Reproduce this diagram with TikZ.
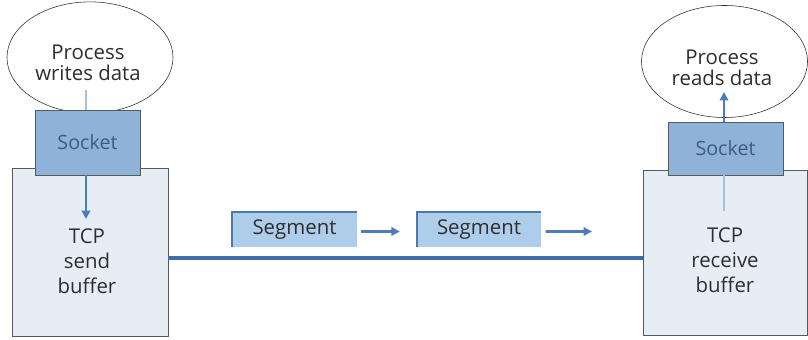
\documentclass[tikz,border=0pt]{standalone}
\usepackage{fontspec}
\setmainfont{Open Sans}
\usetikzlibrary{arrows.meta,shapes.geometric}

\definecolor{inkgray}{HTML}{2E2E2E}
\definecolor{sockblue}{HTML}{8FB2D9}
\definecolor{buffill}{HTML}{E6EDF5}
\definecolor{segfill}{HTML}{AECDEB}
\definecolor{segedge}{HTML}{4C79AA}
\definecolor{flowblue}{HTML}{4A7DBA}
\definecolor{wireblue}{HTML}{3F6EA6}
\definecolor{paleblue}{HTML}{A9C2DC}
\definecolor{socktext}{HTML}{3F5C80}

\begin{document}
\begin{tikzpicture}[
  x=0.025cm, y=-0.025cm,
  proc/.style      = {draw=inkgray, thin, ellipse, fill=white, inner sep=0pt},
  proctext/.style  = {align=center, text=inkgray, inner sep=0pt,
                      font=\fontsize{14.5}{15}\selectfont},
  sock/.style      = {draw=inkgray!80, thin, fill=sockblue, text=socktext,
                      font=\fontsize{14}{16}\selectfont, inner sep=0pt},
  buf/.style       = {draw=inkgray!80, thin, fill=buffill, inner sep=0pt},
  buftext/.style   = {align=center, text=inkgray, inner sep=0pt,
                      font=\fontsize{14.5}{17.8}\selectfont},
  seg/.style       = {fill=segfill, text=inkgray, inner sep=0pt,
                      minimum width=3.1cm, minimum height=0.85cm,
                      font=\fontsize{14.5}{16}\selectfont},
  segrim/.style    = {segedge, line width=1.6pt},
                       % the shaded top and left rim of a segment
  flow/.style      = {flowblue, line width=1.8pt, -{Triangle[length=6pt,width=6pt]}},
  faint/.style     = {paleblue, line width=1.6pt},
  wire/.style      = {wireblue, line width=2.2pt},
]
  \useasboundingbox (0,0) rectangle (808,340);

  % sending host
  \node[proc, minimum width=4.15cm, minimum height=2.78cm] (pw) at (90,57.5) {};
  \node[proctext] (pwt) at (88,63) {Process\\writes data};
  \node[buf, minimum width=3.9cm, minimum height=4.2cm] (sbuf) at (90,252) {};
  \coordinate (pwfoot) at (86,90);
  \draw[faint] (pwfoot) -- (86,112);
  \node[sock, minimum width=2.625cm, minimum height=1.625cm] (ssock) at (87.5,142.5) {Socket};
  \node[buftext] (sbt) at (87,261) {TCP\\send\\buffer};
  \coordinate (sdrop) at (86,219);
  \draw[flow] (ssock.south -| sdrop) -- (sdrop);

  % receiving host
  \node[proc, minimum width=4.15cm, minimum height=2.8cm] (pr) at (724.5,61.5) {};
  \node[proctext] (prt) at (722,67.5) {Process\\reads data};
  \node[buf, minimum width=4.1cm, minimum height=4.125cm] (rbuf) at (725,252.5) {};
  \node[sock, minimum width=2.875cm, minimum height=1.33cm] (rsock) at (725.5,148.5) {Socket};
  \node[buftext] (rbt) at (725,260) {TCP\\receive\\buffer};
  \coordinate (rrise) at (724,92);
  \draw[flow] (rsock.north -| rrise) -- (rrise);
  \coordinate (rfeed) at (724,211);
  \draw[faint] (rsock.south -| rfeed) -- (rfeed);

  % the connection and the segments on it
  \coordinate (wirey) at (400,258);
  \draw[wire] (sbuf.east |- wirey) -- (rbuf.west |- wirey);
  \node[seg] (seg1) at (294.5,229.5) {Segment};
  \node[seg] (seg2) at (479,229.5) {Segment};
  \draw[segrim] (seg1.south west) -- (seg1.north west) -- (seg1.north east);
  \draw[segrim] (seg2.south west) -- (seg2.north west) -- (seg2.north east);
  \draw[flow, shorten <=3pt, shorten >=12pt] ([yshift=-0.05cm]seg1.east) -- ([yshift=-0.05cm]seg2.west);
  \coordinate (segout) at (592,231.5);
  \draw[flow, shorten <=3pt] ([yshift=-0.05cm]seg2.east) -- (segout);
\end{tikzpicture}
\end{document}
